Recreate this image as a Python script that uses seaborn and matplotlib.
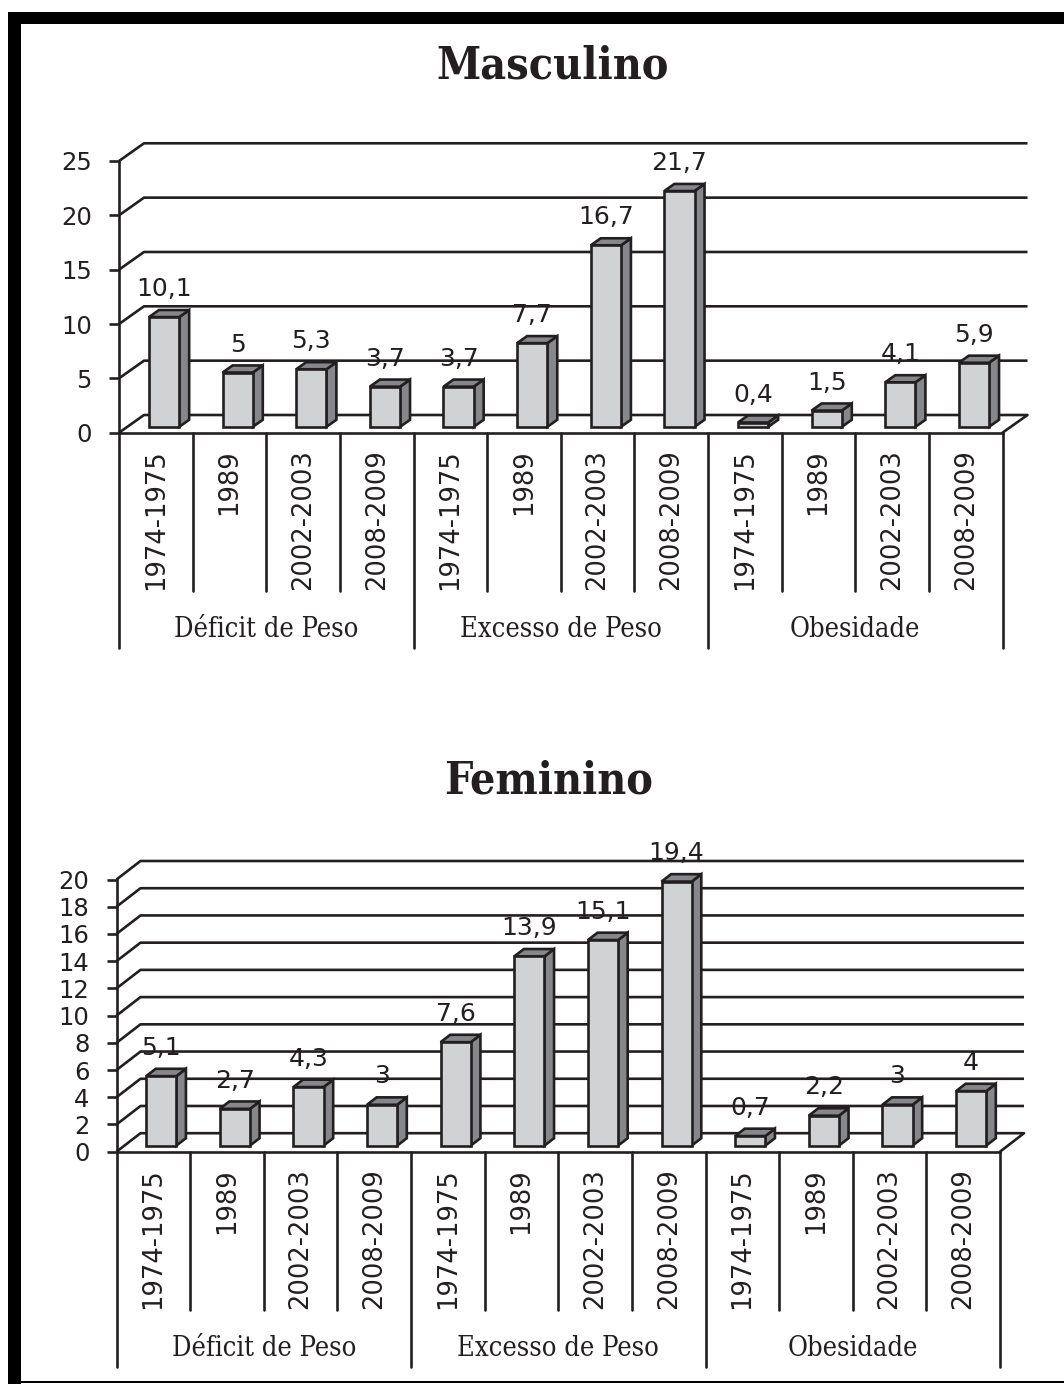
import numpy as np
import pandas as pd
import matplotlib
matplotlib.use("Agg")
import matplotlib.pyplot as plt
import seaborn as sns
from matplotlib.patches import Polygon, Rectangle
from matplotlib.transforms import Affine2D

# ---- data -------------------------------------------------------------
groups = ["Déficit de Peso", "Excesso de Peso", "Obesidade"]
periods = ["1974-1975", "1989", "2002-2003", "2008-2009"]
masculino = [10.1, 5, 5.3, 3.7, 3.7, 7.7, 16.7, 21.7, 0.4, 1.5, 4.1, 5.9]
feminino = [5.1, 2.7, 4.3, 3, 7.6, 13.9, 15.1, 19.4, 0.7, 2.2, 3, 4]
masc_ticks = [0, 5, 10, 15, 20, 25]
fem_ticks = [0, 2, 4, 6, 8, 10, 12, 14, 16, 18, 20]

# ---- style ------------------------------------------------------------
sns.set_style("white")
plt.rcParams["font.family"] = ["DejaVu Sans"]
INK = "#231f20"
FACE = "#d1d2d4"
SHADE = "#86878a"
LW = 1.9

W, H = 1064, 1384
fig = plt.figure(figsize=(W / 100, H / 100), dpi=100)

# black frame on top, left and bottom edges
fig.add_artist(Rectangle((8 / W, 1 - 24 / H), 1, 12 / H, transform=fig.transFigure,
                         facecolor="black", edgecolor="none"))
fig.add_artist(Rectangle((8 / W, 0), 12.5 / W, 1 - 12 / H, transform=fig.transFigure,
                         facecolor="black", edgecolor="none"))
fig.add_artist(Rectangle((8 / W, 1 / H), 1, 2.5 / H, transform=fig.transFigure,
                         facecolor="black", edgecolor="none"))


def fmt(v):
    return f"{v:g}".replace(".", ",")


def panel(values, ticks, box, depth_px, title, title_xy):
    left, top, right, base = box          # pixel box of the plotting area
    ax = fig.add_axes([left / W, 1 - base / H, (right - left) / W, (base - top) / H])
    df = pd.DataFrame({"key": [f"{g}|{p}" for g in groups for p in periods],
                       "pct": values})
    sns.barplot(data=df, x="key", y="pct", ax=ax, color=FACE, saturation=1,
                width=0.41, edgecolor=INK, linewidth=LW, zorder=4, errorbar=None)
    ymax = ticks[-1]
    n = len(values)
    ax.set_xlim(-0.5, n - 0.5)
    ax.set_ylim(0, ymax)

    # depth vector in data units
    cat_px = (right - left) / n
    unit_px = (base - top) / ymax
    ddx = depth_px[0] / cat_px
    ddy = depth_px[1] / unit_px

    # back wall gridlines and floor
    for t in ticks:
        ax.plot([-0.5, -0.5 + ddx, n - 0.5 + ddx], [t, t + ddy, t + ddy],
                color=INK, lw=LW, clip_on=False, zorder=1, solid_capstyle="butt")
    ax.plot([n - 0.5, n - 0.5 + ddx], [0, ddy], color=INK, lw=LW,
            clip_on=False, zorder=1)

    # 3D bars: front face from seaborn, side and top faces from its geometry
    f, d = 0.33, 0.40
    shift = Affine2D().translate(f * ddx, f * ddy) + ax.transData
    for p in list(ax.patches):
        bx, bw, bh = p.get_x(), p.get_width(), p.get_height()
        p.set_transform(shift)
        p.set_clip_on(False)
        side = [(bx + bw, 0), (bx + bw + d * ddx, d * ddy),
                (bx + bw + d * ddx, bh + d * ddy), (bx + bw, bh)]
        topf = [(bx, bh), (bx + bw, bh), (bx + bw + d * ddx, bh + d * ddy),
                (bx + d * ddx, bh + d * ddy)]
        for pts in (side, topf):
            ax.add_patch(Polygon(pts, closed=True, facecolor=SHADE, edgecolor=INK,
                                 lw=LW, transform=shift, zorder=3, joinstyle="miter",
                                 clip_on=False))
        ax.annotate(fmt(bh), xy=(bx + bw / 2 + f * ddx, bh + (f + d) * ddy),
                    xytext=(0, 10), textcoords="offset points", ha="center",
                    va="baseline", fontsize=18, color=INK, zorder=6,
                    annotation_clip=False)

    # axes
    for s in ("top", "right"):
        ax.spines[s].set_visible(False)
    for s in ("left", "bottom"):
        ax.spines[s].set_color(INK)
        ax.spines[s].set_linewidth(LW)
        ax.spines[s].set_zorder(2)
    ax.set_yticks(ticks)
    ax.tick_params(axis="y", direction="out", length=7.5, width=LW, color=INK,
                   pad=12, labelsize=17.5, labelcolor=INK, left=True)
    ax.set_xticks(range(n))
    ax.set_xticklabels(periods * len(groups), rotation=90)
    ax.tick_params(axis="x", length=0, pad=12, labelsize=18.5, labelcolor=INK)
    ax.set_xlabel("")
    ax.set_ylabel("")
    ax.grid(False)

    # category separators below the floor
    axh = base - top
    xt = ax.get_xaxis_transform()
    for k in range(n + 1):
        long = k % len(periods) == 0
        depth = (215 if long else 158) / axh
        ax.plot([k - 0.5, k - 0.5], [0, -depth], color=INK, lw=LW,
                transform=xt, clip_on=False)
    for gi, g in enumerate(groups):
        ax.text(gi * len(periods) + (len(periods) - 1) / 2, -197 / axh, g,
                transform=xt, ha="center", va="center", fontsize=19.5,
                family="DejaVu Serif", fontstretch="condensed", color=INK)

    fig.text(title_xy[0] / W, 1 - title_xy[1] / H, title, ha="center", va="center",
             fontsize=32, fontweight="bold", family="DejaVu Serif",
             fontstretch="condensed", color=INK)
    return ax


panel(masculino, masc_ticks, (119, 161, 1002.5, 432.7), (25, 17.7),
      "Masculino", (553, 66))
panel(feminino, fem_ticks, (116.5, 879.5, 1000, 1151.7), (24, 18.5),
      "Feminino", (549, 781))

fig.savefig("out.png", dpi=100, facecolor="white")
